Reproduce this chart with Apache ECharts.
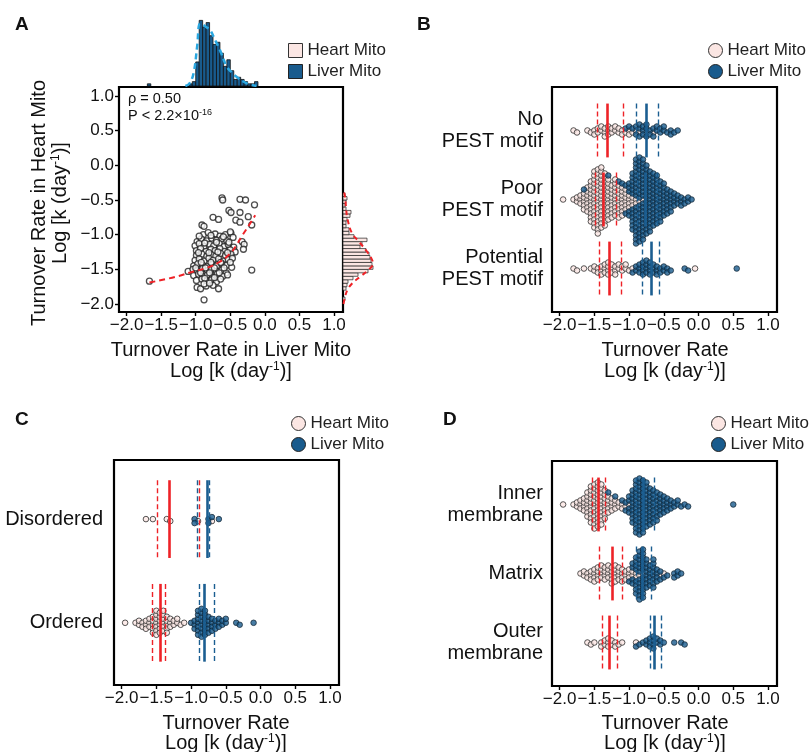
<!DOCTYPE html>
<html>
<head>
<meta charset="utf-8">
<script src="https://cdn.jsdelivr.net/npm/echarts@6/dist/echarts.min.js"></script>
<style>
html, body { margin: 0; padding: 0; background: #fff; }
#chart { width: 809px; height: 752px; }
</style>
</head>
<body>
<div id="chart"></div>
<script>
var FONT = '"Liberation Sans", Arial, sans-serif';
var RED = '#ee2227', BLUE = '#1b5e91';
var HEART_FILL = '#fbe6e3', LIVER_FILL = '#195b8d';
var BIN = 0.05;

// ---------- panel A : liver (x) vs heart (y), log10 k ----------
var scatterA = [
  [-1.67,-1.67],[-0.88,-1.94],
  [-0.62,-0.47],[-0.61,-0.50],[-0.36,-0.49],[-0.28,-0.50],[-0.15,-0.57],
  [-0.52,-0.65],[-0.49,-0.68],[-0.36,-0.68],[-0.42,-0.79],[-0.36,-0.82],
  [-0.75,-0.75],[-0.67,-0.78],[-0.91,-0.86],[-0.88,-0.88],[-0.24,-0.74],[-0.19,-0.86],
  [-0.33,-1.10],[-0.30,-1.14],[-0.49,-0.98],[-0.57,-1.00],[-0.31,-1.21],[-0.19,-1.51],
  [-0.89,-1.00],[-0.82,-0.97],[-0.72,-0.99],[-0.65,-1.02],[-0.50,-0.96],
  [-0.98,-1.10],[-0.92,-1.06],[-0.84,-1.09],[-0.77,-1.05],[-0.70,-1.08],[-0.62,-1.06],[-0.55,-1.09],[-0.46,-1.04],
  [-1.01,-1.16],[-0.95,-1.13],[-0.88,-1.17],[-0.80,-1.14],[-0.74,-1.16],[-0.66,-1.13],[-0.59,-1.17],[-0.53,-1.14],[-0.45,-1.18],
  [-0.99,-1.23],[-0.93,-1.20],[-0.85,-1.24],[-0.78,-1.21],[-0.72,-1.23],[-0.65,-1.20],[-0.58,-1.24],[-0.50,-1.22],[-0.43,-1.25],
  [-0.99,-1.30],[-0.91,-1.28],[-0.84,-1.31],[-0.77,-1.29],[-0.71,-1.31],[-0.64,-1.27],[-0.57,-1.30],[-0.49,-1.28],
  [-1.01,-1.37],[-0.95,-1.35],[-0.88,-1.38],[-0.81,-1.34],[-0.75,-1.37],[-0.67,-1.35],[-0.60,-1.38],[-0.53,-1.36],[-0.47,-1.34],
  [-1.03,-1.45],[-0.97,-1.42],[-0.90,-1.44],[-0.83,-1.46],[-0.76,-1.43],[-0.70,-1.45],[-0.62,-1.42],[-0.55,-1.44],[-0.48,-1.47],
  [-1.11,-1.53],[-1.04,-1.50],[-0.98,-1.52],[-0.90,-1.49],[-0.83,-1.52],[-0.77,-1.50],[-0.70,-1.53],[-0.62,-1.51],[-0.56,-1.55],
  [-1.03,-1.59],[-0.96,-1.57],[-0.90,-1.60],[-0.83,-1.58],[-0.76,-1.61],[-0.69,-1.57],[-0.61,-1.60],[-0.54,-1.58],
  [-0.99,-1.66],[-0.91,-1.64],[-0.84,-1.67],[-0.77,-1.65],[-0.70,-1.68],
  [-0.98,-1.76],[-0.93,-1.78],[-0.85,-1.74],[-0.75,-1.73],[-0.67,-1.78],
  [-0.95,-1.02],[-0.78,-1.01],[-0.60,-1.03],[-0.87,-1.12],[-0.70,-1.11],[-0.52,-1.11],
  [-0.96,-1.26],[-0.81,-1.26],[-0.68,-1.25],[-0.54,-1.26],[-0.92,-1.40],[-0.78,-1.40],[-0.64,-1.40],[-0.50,-1.40],
  [-1.00,-1.48],[-0.86,-1.48],[-0.73,-1.48],[-0.59,-1.48],[-0.93,-1.55],[-0.80,-1.55],[-0.66,-1.55],
  [-0.87,-1.63],[-0.73,-1.62],[-0.64,-1.64],[-0.88,-1.71],[-0.80,-1.70]
];
var loessA = [[-1.67,-1.69],[-1.30,-1.61],[-1.03,-1.53],[-0.84,-1.48],[-0.65,-1.39],[-0.50,-1.27],
  [-0.41,-1.15],[-0.34,-1.03],[-0.26,-0.91],[-0.14,-0.72]];

// marginal histograms: [bin start, count], bins 0.05 wide
var liverHist = [[-1.70,1],[-1.10,1],[-1.05,2],[-1.00,11],[-0.95,30],[-0.90,27],[-0.85,29],[-0.80,23],
  [-0.75,19],[-0.70,20],[-0.65,15],[-0.60,9],[-0.55,12],[-0.50,7],[-0.45,3],[-0.40,4],[-0.35,3],
  [-0.30,2],[-0.25,1],[-0.20,1],[-0.15,2]];
var liverDensity = [[-1.15,0],[-1.09,1.2],[-1.03,6],[-0.98,18],[-0.94,28.5],[-0.90,28],[-0.85,27],
  [-0.79,25.5],[-0.72,21],[-0.65,16.4],[-0.55,8.8],[-0.47,6],[-0.41,4.2],[-0.26,1.2],[-0.12,0]];
var heartHist = [[-1.95,2],[-1.80,3],[-1.75,4],[-1.70,5],[-1.65,10],[-1.60,15],[-1.55,25],[-1.50,30],
  [-1.45,29],[-1.40,28],[-1.35,27],[-1.30,26],[-1.25,23],[-1.20,17],[-1.15,19],[-1.10,24],[-1.05,11],
  [-1.00,6],[-0.95,6],[-0.90,3],[-0.85,3],[-0.80,4],[-0.75,7],[-0.70,8],[-0.65,3],[-0.60,2],
  [-0.55,3],[-0.50,4],[-0.45,2]];
var heartDensity = [[0.5,-2.0],[2,-1.9],[4.3,-1.8],[9.3,-1.7],[17.7,-1.6],[26,-1.5],[30,-1.42],[28,-1.33],
  [24,-1.245],[16,-1.1],[9,-0.98],[4.3,-0.76],[3,-0.6],[2,-0.45],[0.5,-0.35]];

// ---------- panels B-D : swarm counts per 0.05 bin [x, n] ----------
var pestCats = ['No\nPEST motif', 'Poor\nPEST motif', 'Potential\nPEST motif'];
var noPestHeart = [[-1.80,1],[-1.75,1],[-1.60,1],[-1.55,1],[-1.50,2],[-1.45,2],[-1.40,2],[-1.35,3],[-1.30,3],
  [-1.25,2],[-1.20,2],[-1.15,2],[-1.10,2],[-1.05,1],[-1.00,2],[-0.95,1],[-0.90,1],[-0.85,1],[-0.75,1],[-0.65,1]];
var noPestLiver = [[-1.05,1],[-1.00,1],[-0.95,1],[-0.90,2],[-0.85,3],[-0.80,3],[-0.75,3],[-0.70,2],[-0.65,2],
  [-0.60,2],[-0.55,2],[-0.50,2],[-0.45,1],[-0.40,2],[-0.35,1],[-0.30,1]];
var poorHeart = [[-1.95,1],[-1.80,1],[-1.75,2],[-1.70,3],[-1.65,5],[-1.60,7],[-1.55,11],[-1.50,15],[-1.45,17],
  [-1.40,16],[-1.35,14],[-1.30,11],[-1.25,9],[-1.20,10],[-1.15,9],[-1.10,8],[-1.05,6],[-1.00,4],[-0.95,3],
  [-0.90,2],[-0.85,1],[-0.80,1]];
var poorLiver = [[-1.65,1],[-1.30,1],[-1.15,1],[-1.10,1],[-1.05,2],[-1.00,5],[-0.95,12],[-0.90,20],[-0.85,21],
  [-0.80,20],[-0.75,18],[-0.70,16],[-0.65,14],[-0.60,13],[-0.55,11],[-0.50,9],[-0.45,7],[-0.40,6],[-0.35,4],
  [-0.30,3],[-0.25,3],[-0.20,2],[-0.15,2],[-0.10,1]];
var potHeart = [[-1.80,1],[-1.75,1],[-1.65,1],[-1.55,1],[-1.50,2],[-1.45,2],[-1.40,3],[-1.35,3],[-1.30,4],
  [-1.25,3],[-1.20,3],[-1.15,2],[-1.10,2],[-1.05,2],[-1.00,1],[-0.95,1],[-0.05,1]];
var potLiver = [[-0.95,1],[-0.90,2],[-0.85,3],[-0.80,4],[-0.75,4],[-0.70,4],[-0.65,3],[-0.60,3],[-0.55,2],
  [-0.50,2],[-0.45,2],[-0.40,1],[-0.20,1],[-0.15,1],[0.55,1]];
// [q1, median, q3]
var pestHeartQ = [[-1.455,-1.316,-1.08],[-1.49,-1.37,-1.18],[-1.43,-1.29,-1.12]];
var pestLiverQ = [[-0.89,-0.747,-0.574],[-0.88,-0.77,-0.60],[-0.805,-0.675,-0.565]];

var foldCats = ['Disordered', 'Ordered'];
var disHeart = [[-1.65,1],[-1.55,1],[-1.35,1],[-1.30,1],[-0.90,1],[-0.70,1]];
var disLiver = [[-0.95,2],[-0.75,2],[-0.70,1],[-0.60,1]];
var ordHeart = [[-1.95,1],[-1.80,1],[-1.75,2],[-1.70,2],[-1.65,3],[-1.60,3],[-1.55,5],[-1.50,7],[-1.45,6],
  [-1.40,6],[-1.35,5],[-1.30,3],[-1.25,2],[-1.20,2],[-1.15,1],[-1.10,1]];
var ordLiver = [[-1.00,1],[-0.95,3],[-0.90,7],[-0.85,8],[-0.80,7],[-0.75,5],[-0.70,4],[-0.65,3],[-0.60,3],
  [-0.55,2],[-0.50,2],[-0.35,1],[-0.30,1],[-0.10,1]];
var foldHeartQ = [[-1.49,-1.32,-0.88],[-1.555,-1.447,-1.368]];
var foldLiverQ = [[-0.915,-0.77,-0.735],[-0.883,-0.81,-0.666]];

var locCats = ['Inner\nmembrane', 'Matrix', 'Outer\nmembrane'];
var innerHeart = [[-1.95,1],[-1.80,1],[-1.75,2],[-1.70,3],[-1.65,4],[-1.60,7],[-1.55,10],[-1.50,12],[-1.45,12],
  [-1.40,11],[-1.35,8],[-1.30,5],[-1.25,4],[-1.20,3],[-1.15,2],[-1.10,2],[-1.05,1],[-1.00,1]];
var innerLiver = [[-1.30,1],[-1.20,1],[-1.10,1],[-1.05,2],[-1.00,4],[-0.95,9],[-0.90,14],[-0.85,15],[-0.80,14],
  [-0.75,12],[-0.70,10],[-0.65,9],[-0.60,8],[-0.55,6],[-0.50,5],[-0.45,4],[-0.40,3],[-0.35,2],[-0.30,2],
  [-0.25,1],[-0.20,1],[-0.15,1],[0.50,1]];
var matrixHeart = [[-1.70,1],[-1.65,2],[-1.60,2],[-1.55,3],[-1.50,4],[-1.45,4],[-1.40,4],[-1.35,4],[-1.30,4],
  [-1.25,5],[-1.20,5],[-1.15,4],[-1.10,4],[-1.05,3],[-1.00,3],[-0.95,2],[-0.90,2],[-0.85,1],[-0.80,1],
  [-0.55,1],[-0.50,1]];
var matrixLiver = [[-1.00,1],[-0.95,4],[-0.90,8],[-0.85,12],[-0.80,12],[-0.75,8],[-0.70,6],[-0.65,8],[-0.60,4],
  [-0.55,2],[-0.50,1],[-0.45,1],[-0.35,2],[-0.30,2],[-0.25,1]];
var outerHeart = [[-1.60,1],[-1.55,1],[-1.50,1],[-1.40,2],[-1.35,2],[-1.30,3],[-1.25,2],[-1.20,2],[-1.15,1],
  [-1.10,1],[-0.90,1]];
var outerLiver = [[-0.90,1],[-0.85,1],[-0.80,1],[-0.75,2],[-0.70,3],[-0.65,4],[-0.60,2],[-0.55,2],[-0.50,1],
  [-0.35,1],[-0.25,1],[-0.20,1]];
var locHeartQ = [[-1.53,-1.446,-1.35],[-1.436,-1.24,-1.094],[-1.393,-1.292,-1.166]];
var locLiverQ = [[-0.90,-0.796,-0.637],[-0.892,-0.805,-0.675],[-0.70,-0.64,-0.53]];

var TICKS = [-2, -1.5, -1, -0.5, 0, 0.5, 1];
var XMIN = -2.11, XMAX = 1.13;

function tickFmt(v) { return (v < 0 ? '\u2212' : '') + Math.abs(v).toFixed(1); }

// beeswarm layout: points of both tissues of one group, placed in pixel space
function buildSwarm(heart, liver, cat, pxX, pxY) {
  var d = 4, pts = [];
  heart.forEach(function (b) { for (var i = 0; i < b[1]; i++) pts.push({ x: b[0], t: 0 }); });
  liver.forEach(function (b) { for (var i = 0; i < b[1]; i++) pts.push({ x: b[0], t: 1 }); });
  pts.sort(function (a, b) { return a.x - b.x; });
  var placed = [];
  pts.forEach(function (p) {
    p.px = p.x * pxX;
    var forb = [];
    placed.forEach(function (q) {
      var dx = Math.abs(q.px - p.px);
      if (dx < d) { var h = Math.sqrt(d * d - dx * dx); forb.push([q.py - h, q.py + h]); }
    });
    var cands = [0];
    forb.forEach(function (f) { cands.push(f[0], f[1]); });
    cands.sort(function (a, b) { return Math.abs(a) - Math.abs(b) || b - a; });
    for (var i = 0; i < cands.length; i++) {
      var c = cands[i];
      if (forb.every(function (f) { return c <= f[0] + 1e-6 || c >= f[1] - 1e-6; })) { p.py = c; break; }
    }
    placed.push(p);
  });
  var out = { heart: [], liver: [] };
  placed.forEach(function (p) { (p.t ? out.liver : out.heart).push([p.x, cat + p.py / pxY]); });
  return out;
}

function swarmPanel(groups, pxX, pxY) {
  var h = [], l = [];
  groups.forEach(function (g, i) {
    var s = buildSwarm(g[0], g[1], i + 1, pxX, pxY);
    h = h.concat(s.heart); l = l.concat(s.liver);
  });
  return { heart: h, liver: l };
}

var PX_X = 225 / (XMAX - XMIN);
var swB = swarmPanel([[noPestHeart, noPestLiver], [poorHeart, poorLiver], [potHeart, potLiver]], PX_X, 225 / (3.63 - 0.37));
var swC = swarmPanel([[disHeart, disLiver], [ordHeart, ordLiver]], PX_X, 225 / (2.6 - 0.43));
var swD = swarmPanel([[innerHeart, innerLiver], [matrixHeart, matrixLiver], [outerHeart, outerLiver]], PX_X, 225 / (3.63 - 0.37));

function qLines(qs, color, half) {
  var data = [];
  qs.forEach(function (q, i) {
    var c = i + 1;
    for (var k = 0; k < 3; k++) {
      var ls = k === 1 ? { color: color, type: 'solid', width: 2.6 } : { color: color, type: [5, 3], width: 1.4 };
      data.push([{ coord: [q[k], c - half], lineStyle: ls }, { coord: [q[k], c + half], lineStyle: ls }]);
    }
  });
  return { symbol: ['none', 'none'], silent: true, label: { show: false }, animation: false, z: 5, data: data };
}

function tickAxis(gi, min, max) {
  return {
    gridIndex: gi, type: 'value', min: min, max: max,
    axisLine: { show: false, onZero: false }, splitLine: { show: false },
    axisTick: { show: true, length: 4, customValues: TICKS, lineStyle: { color: '#000', width: 1.4 } },
    axisLabel: { customValues: TICKS, formatter: tickFmt, fontSize: 17, color: '#111', margin: 5 }
  };
}
function hiddenAxis(gi, min, max) {
  return { gridIndex: gi, type: 'value', min: min, max: max, show: false, axisLine: { onZero: false } };
}
function catAxis(gi, min, max, names, margin) {
  return {
    gridIndex: gi, type: 'value', inverse: true, min: min, max: max,
    axisLine: { show: false, onZero: false }, axisTick: { show: false }, splitLine: { show: false },
    axisLabel: {
      customValues: names.map(function (n, i) { return i + 1; }),
      formatter: function (v) { return names[Math.round(v) - 1]; },
      fontSize: 20, lineHeight: 22, color: '#111', margin: margin
    }
  };
}

function dotSeries(name, gi, data, q, half) {
  var heart = name === 'Heart Mito';
  return {
    type: 'scatter', name: name, xAxisIndex: gi, yAxisIndex: gi, data: data, symbolSize: 5.6, silent: true,
    itemStyle: heart ? { color: HEART_FILL, borderColor: '#2e2e2e', borderWidth: 1 }
                     : { color: LIVER_FILL, borderColor: '#10222f', borderWidth: 0.9 },
    markLine: qLines(q, heart ? RED : BLUE, half)
  };
}

var legendText = { fontSize: 17, color: '#222', fontFamily: FONT };
function legendAt(left, top, icon) {
  return {
    left: left, top: top, orient: 'vertical', itemGap: 4, itemWidth: 14, itemHeight: 14, selectedMode: false,
    textStyle: legendText, padding: 0,
    data: [
      { name: 'Heart Mito', icon: icon, itemStyle: { color: HEART_FILL, borderColor: '#333', borderWidth: 1 } },
      { name: 'Liver Mito', icon: icon, itemStyle: { color: LIVER_FILL, borderColor: '#222', borderWidth: 1 } }
    ]
  };
}

var RICH = {
  a: { fontSize: 20, fontFamily: FONT, fill: '#111' },
  s: { fontSize: 12, fontFamily: FONT, fill: '#111', verticalAlign: 'top' },
  p: { fontSize: 14.5, fontFamily: FONT, fill: '#111' },
  q: { fontSize: 9, fontFamily: FONT, fill: '#111', verticalAlign: 'top' }
};
var LOG_K = '{a|Log [k (day}{s|-1}{a|)]}';
function label(x, y, text, opt) {
  opt = opt || {};
  return {
    type: 'text', x: x, y: y, rotation: opt.rot || 0, silent: true,
    style: {
      text: text, rich: RICH, fontSize: opt.size || 20, fontFamily: FONT, fontWeight: opt.bold ? 'bold' : 'normal',
      fill: '#111', align: opt.align || 'center', verticalAlign: 'middle'
    }
  };
}

var gridBox = { show: true, borderColor: '#000', borderWidth: 2.2, backgroundColor: 'transparent' };

var chart = echarts.init(document.getElementById('chart'), null, { renderer: 'canvas' });
chart.setOption({
  animation: false,
  backgroundColor: '#fff',
  textStyle: { fontFamily: FONT, color: '#111' },
  grid: [
    Object.assign({ left: 119, top: 87, width: 224, height: 225 }, gridBox),
    { left: 119, top: 16, width: 224, height: 70 },
    { left: 343, top: 87, width: 32, height: 225 },
    Object.assign({ left: 552, top: 87, width: 225, height: 225 }, gridBox),
    Object.assign({ left: 114, top: 460, width: 225, height: 225 }, gridBox),
    Object.assign({ left: 552, top: 461, width: 225, height: 225 }, gridBox)
  ],
  xAxis: [
    tickAxis(0, XMIN, XMAX),
    hiddenAxis(1, XMIN, XMAX),
    hiddenAxis(2, 0, 32),
    tickAxis(3, XMIN, XMAX),
    tickAxis(4, XMIN, XMAX),
    tickAxis(5, XMIN, XMAX)
  ],
  yAxis: [
    tickAxis(0, -2.115, 1.13),
    hiddenAxis(1, 0, 32),
    hiddenAxis(2, -2.115, 1.13),
    catAxis(3, 0.37, 3.63, pestCats, 9),
    catAxis(4, 0.43, 2.6, foldCats, 11),
    catAxis(5, 0.37, 3.63, locCats, 9)
  ],
  legend: [
    legendAt(288, 42, 'rect'),
    legendAt(708, 42, 'circle'),
    legendAt(291, 415, 'circle'),
    legendAt(711, 415, 'circle')
  ],
  graphic: { elements: [
    label(15, 25, 'A', { bold: true, align: 'left', size: 19 }),
    label(417, 25, 'B', { bold: true, align: 'left', size: 19 }),
    label(15, 420, 'C', { bold: true, align: 'left', size: 19 }),
    label(443, 420, 'D', { bold: true, align: 'left', size: 19 }),
    label(128, 99, '{p|\u03c1 = 0.50}', { align: 'left', size: 14.5 }),
    label(128, 116, '{p|P < 2.2\u00d710}{q|-16}', { align: 'left', size: 14.5 }),
    label(231, 350, '{a|Turnover Rate in Liver Mito}'),
    label(231, 371, LOG_K),
    label(39, 203, '{a|Turnover Rate in Heart Mito}', { rot: Math.PI / 2 }),
    label(60, 203, LOG_K, { rot: Math.PI / 2 }),
    label(665, 350, '{a|Turnover Rate}'),
    label(665, 371, LOG_K),
    label(226, 723, '{a|Turnover Rate}'),
    label(226, 743, LOG_K),
    label(665, 723, '{a|Turnover Rate}'),
    label(665, 743, LOG_K)
  ] },
  series: [
    {
      type: 'scatter', name: 'Proteins', xAxisIndex: 0, yAxisIndex: 0, data: scatterA, symbolSize: 6, z: 3, silent: true,
      itemStyle: { color: '#fff', borderColor: '#222', borderWidth: 1.3 }
    },
    {
      type: 'line', name: 'Fit', xAxisIndex: 0, yAxisIndex: 0, data: loessA, smooth: 0.4, showSymbol: false, z: 4,
      silent: true, lineStyle: { color: RED, width: 2, type: [6, 4] }
    },
    {
      type: 'custom', name: 'Liver Mito', xAxisIndex: 1, yAxisIndex: 1, data: liverHist, encode: { x: 0, y: 1 }, silent: true,
      renderItem: function (params, api) {
        var x0 = api.value(0), n = api.value(1);
        var a = api.coord([x0, 0]), b = api.coord([x0 + BIN, n]);
        return { type: 'rect', shape: { x: a[0], y: b[1], width: b[0] - a[0], height: a[1] - b[1] },
          style: { fill: LIVER_FILL, stroke: '#111', lineWidth: 0.8 } };
      }
    },
    {
      type: 'line', name: 'Liver density', xAxisIndex: 1, yAxisIndex: 1, data: liverDensity, smooth: 0.4, showSymbol: false,
      silent: true, z: 4, lineStyle: { color: '#2aa7e0', width: 2.5, type: [6, 4] }
    },
    {
      type: 'custom', name: 'Heart Mito', xAxisIndex: 2, yAxisIndex: 2, data: heartHist, encode: { x: 1, y: 0 }, silent: true,
      renderItem: function (params, api) {
        var y0 = api.value(0), n = api.value(1);
        var a = api.coord([0, y0]), b = api.coord([n, y0 + BIN]);
        return { type: 'rect', shape: { x: a[0], y: b[1], width: b[0] - a[0], height: a[1] - b[1] },
          style: { fill: HEART_FILL, stroke: '#222', lineWidth: 0.7 } };
      }
    },
    {
      type: 'line', name: 'Heart density', xAxisIndex: 2, yAxisIndex: 2, data: heartDensity, smooth: 0.4, showSymbol: false,
      silent: true, z: 4, lineStyle: { color: RED, width: 2, type: [5, 4] }
    },
    dotSeries('Heart Mito', 3, swB.heart, pestHeartQ, 0.39),
    dotSeries('Liver Mito', 3, swB.liver, pestLiverQ, 0.39),
    dotSeries('Heart Mito', 4, swC.heart, foldHeartQ, 0.375),
    dotSeries('Liver Mito', 4, swC.liver, foldLiverQ, 0.375),
    dotSeries('Heart Mito', 5, swD.heart, locHeartQ, 0.39),
    dotSeries('Liver Mito', 5, swD.liver, locLiverQ, 0.39)
  ]
});
</script>
</body>
</html>
